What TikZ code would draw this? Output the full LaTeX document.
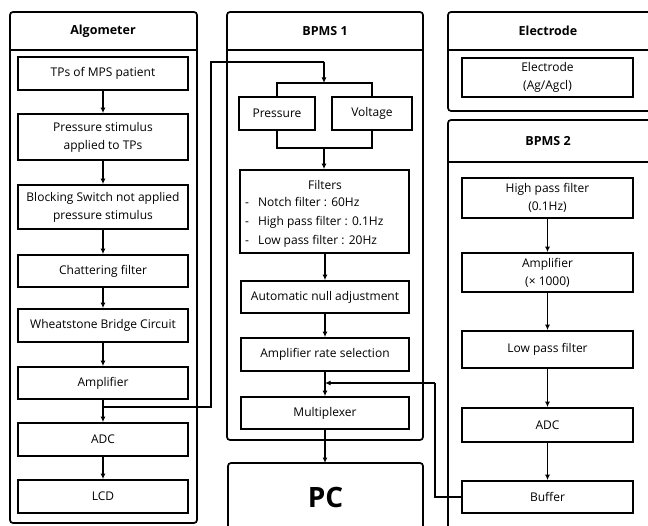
\documentclass[tikz,border=0pt]{standalone}
\usepackage{fontspec}
\setmainfont{Open Sans}
\usetikzlibrary{arrows.meta}
\tikzset{
  x=1pt, y=-1pt,
  lw/.style={line width=1.7pt},
  outer/.style={lw, rounded corners=3pt},
  txt/.style={font=\fontsize{12}{18}\selectfont},
  box/.style={draw, lw, align=center, txt, inner sep=1pt},
  title/.style={font=\bfseries\fontsize{12.5}{14}\selectfont},
  arr/.style={lw, -{Latex[length=5.5pt,width=5pt]}},
  ln/.style={lw}
}
\begin{document}
\begin{tikzpicture}
\useasboundingbox (0,0) rectangle (648,526);
% Algometer group
\draw[outer] (10,12) rectangle (197,523);
\draw[lw] (10,50) -- (197,50);
\node[title] (tAlg) at (103,31) {Algometer};
\node[box, minimum width=170pt, minimum height=33pt] (tp) at (103,73.5) {TPs of MPS patient};
\node[box, minimum width=170pt, minimum height=46pt] (ps) at (103,137) {Pressure stimulus\\applied to TPs};
\node[box, minimum width=170pt, minimum height=44pt] (bs) at (103,207) {Blocking Switch not applied\\pressure stimulus};
\node[box, minimum width=170pt, minimum height=32pt] (cf) at (103,271) {Chattering filter};
\node[box, minimum width=170pt, minimum height=33pt] (wb) at (103,325.5) {Wheatstone Bridge Circuit};
\node[box, minimum width=170pt, minimum height=32pt] (amp) at (103,383) {Amplifier};
\node[box, minimum width=170pt, minimum height=33pt] (adc) at (103,439.5) {ADC};
\node[box, minimum width=170pt, minimum height=33pt] (lcd) at (103,496.5) {LCD};
\draw[arr] (tp) -- (ps);
\draw[arr] (ps) -- (bs);
\draw[arr] (bs) -- (cf);
\draw[arr] (cf) -- (wb);
\draw[arr] (wb) -- (amp);
\draw[arr] (amp) -- (adc);
\draw[arr] (adc) -- (lcd);
\coordinate (j1) at (103,407);
% BPMS 1 group
\draw[outer] (227,12) rectangle (423,440);
\draw[lw] (227,50) -- (423,50);
\node[title] (tB1) at (325,31) {BPMS 1};
\node[box, minimum width=76pt, minimum height=33pt] (pr) at (277,113.5) {Pressure};
\node[box, minimum width=80pt, minimum height=33pt] (vo) at (372,113.5) {Voltage};
\coordinate (btop) at (324,83);
\coordinate (bbot) at (324,148);
\draw[ln] (pr.north) |- (btop) -| (vo.north);
\draw[ln] (pr.south) |- (bbot) -| (vo.south);
\node[draw, lw, minimum width=169pt, minimum height=83pt] (fi) at (324.5,211.5) {};
\node[txt, inner sep=0pt] (fiT) at (325,185) {Filters};
\node[txt, anchor=west, inner sep=0pt] (fiL) at (245,222) {%
\begin{tabular}{@{}l@{\hspace{9pt}}l@{}}
- & Notch filter : 60Hz\\[0.7pt]
- & High pass filter : 0.1Hz\\[0.7pt]
- & Low pass filter : 20Hz
\end{tabular}};
\node[box, minimum width=168pt, minimum height=32pt] (nu) at (325,297) {Automatic null adjustment};
\node[box, minimum width=168pt, minimum height=33pt] (ar) at (325,354.5) {Amplifier rate selection};
\node[box, minimum width=168pt, minimum height=32pt] (mx) at (325,413) {Multiplexer};
\draw[arr] (bbot) -- (bbot |- fi.north);
\draw[arr] (fi.south -| nu.north) -- (nu.north);
\draw[arr] (nu) -- (ar);
\draw[arr] (ar) -- (mx);
% PC
\draw[outer] (228,463) rectangle (423,545);
\node[font=\bfseries\fontsize{28}{30}\selectfont] (pc) at (325.5,497) {PC};
\coordinate (pctop) at (325,463);
\draw[arr] (mx.south) -- (pctop);
% Algometer to BPMS1
\coordinate (c1) at (211,407);
\coordinate (c2) at (211,62);
\coordinate (c3) at (324,62);
\draw[ln] (j1) -- (c1) -- (c2) -- (c3);
\draw[arr] (c3) -- (btop);
% Electrode group
\draw[outer] (448,12) rectangle (665,111);
\draw[lw] (448,50) -- (665,50);
\node[title] (tEl) at (548,31) {Electrode};
\node[box, minimum width=171pt, minimum height=39pt] (el) at (547.5,77.5) {Electrode\\(Ag/Agcl)};
% BPMS 2 group
\draw[outer] (448,120) rectangle (665,545);
\draw[lw] (448,162) -- (665,162);
\node[title] (tB2) at (548,141) {BPMS 2};
\node[box, minimum width=171pt, minimum height=40pt] (hp) at (547.5,198) {High pass filter\\(0.1Hz)};
\node[box, minimum width=171pt, minimum height=39pt] (a2) at (547.5,272.5) {Amplifier\\(× 1000)};
\node[box, minimum width=171pt, minimum height=37pt] (lp) at (547.5,349.5) {Low pass filter};
\node[box, minimum width=171pt, minimum height=34pt] (ad2) at (547.5,425) {ADC};
\node[box, minimum width=171pt, minimum height=32pt] (bu) at (547.5,497) {Buffer};
\draw[arr] (hp) -- (a2);
\draw[arr] (a2) -- (lp);
\draw[arr] (lp) -- (ad2);
\draw[arr] (ad2) -- (bu);
% Buffer back to BPMS1
\coordinate (d1) at (435,497);
\coordinate (d2) at (435,383);
\coordinate (d3) at (325,383);
\draw[ln] (bu.west) -- (d1) -- (d2);
\draw[arr] (d2) -- (d3);
\end{tikzpicture}
\end{document}
